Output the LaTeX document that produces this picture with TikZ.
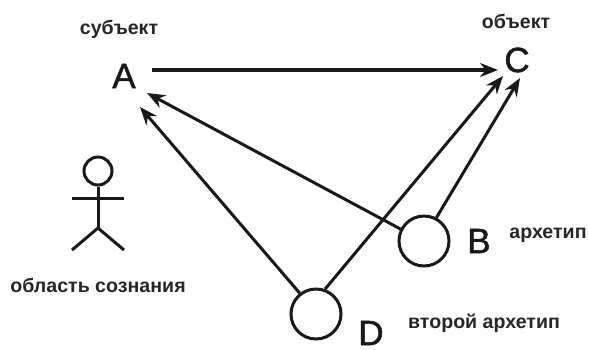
\documentclass[tikz,border=0pt]{standalone}
\usepackage{fontspec}
\setmainfont{Liberation Sans}
\newfontfamily\lettfont[FakeBold=1.4]{Liberation Sans}
\usetikzlibrary{arrows.meta}
\tikzset{
  lbl/.style={font=\fontsize{19.6pt}{22pt}\selectfont\bfseries, inner sep=0pt, text=black!85},
  letter/.style={font=\fontsize{35pt}{38pt}\lettfont\selectfont, inner sep=0pt, text=black!90},
  arch/.style={draw=black!90, circle, line width=3pt, minimum size=50pt, inner sep=0pt},
  conn/.style={draw=black!90, line width=3pt, -{Stealth[length=18pt,width=14pt]}},
  thick1/.style={draw=black!90, line width=3.6pt, -{Stealth[length=18pt,width=14pt]}},
  fig/.style={draw=black!90, line width=3pt}
}
\begin{document}
\begin{tikzpicture}[x=1pt,y=-1pt]
\useasboundingbox (0,0) rectangle (589,349);
\fill[white] (0,0) rectangle (589,349);
\node[lbl] (subj) at (119,29) {субъект};
\node[lbl] (obj) at (516,21) {объект};
\node[lbl] (area) at (98,285) {область сознания};
\node[lbl] (arch1) at (548,235) {архетип};
\node[lbl] (arch2) at (484,323) {второй архетип};
\node[letter] (A) at (124,76) {A};
\node[letter] (C) at (517,60) {C};
\node[letter] (Bl) at (479,241) {B};
\node[letter] (Dl) at (371,333) {D};
\node[arch] (B) at (424,241) {};
\node[arch] (D) at (316,314) {};
\coordinate (As) at (152,70);
\coordinate (Ce) at (498,70);
\coordinate (Ab) at (147,93);
\coordinate (Ad) at (140,107);
\coordinate (Cd) at (503,76);
\coordinate (Cb) at (520,78);
\draw[thick1] (As) -- (Ce);
\draw[conn] (B.153) -- (Ab);
\draw[conn] (D.128) -- (Ad);
\draw[conn] (D.70) -- (Cd);
\draw[conn] (B.62) -- (Cb);
\node[fig, circle, minimum size=28pt, inner sep=0pt] (head) at (98,171) {};
\coordinate (hip) at (98,228);
\coordinate (armL) at (72,198);
\coordinate (armR) at (124,198);
\coordinate (legL) at (72,250);
\coordinate (legR) at (124,250);
\draw[fig] (head) -- (hip);
\draw[fig] (armL) -- (armR);
\draw[fig] (legL) -- (hip) -- (legR);
\end{tikzpicture}
\end{document}
